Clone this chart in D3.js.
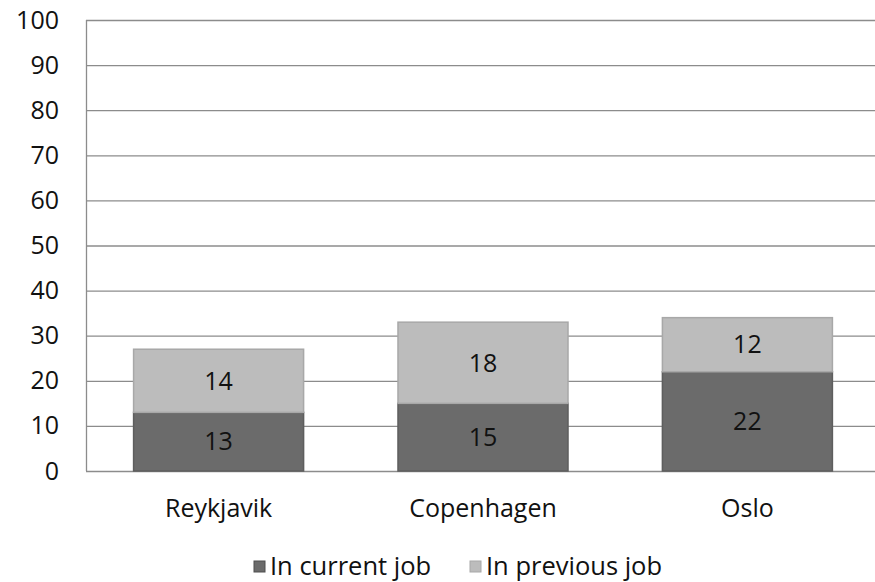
<!DOCTYPE html>
<html><head><meta charset="utf-8">
<script src="https://cdn.jsdelivr.net/npm/d3@7"></script>
<style>body{margin:0;background:#fff}svg{display:block}text{font-family:"Open Sans","Liberation Sans",sans-serif}</style>
</head><body><svg id="c" width="875" height="582"></svg>
<script>
const categories = ["Reykjavik","Copenhagen","Oslo"];
const currentJob = [13,15,22];
const previousJob = [14,18,12];
const seriesNames = ["In current job","In previous job"];
const yTicks = [0,10,20,30,40,50,60,70,80,90,100];

const svg = d3.select("#c");
const m = {left:86, right:880, top:20, bottom:471};
const x = d3.scaleBand().domain(categories).range([m.left, m.right]).paddingInner(0.357).paddingOuter(0.18);
const y = d3.scaleLinear().domain([0,100]).range([m.bottom, m.top]);
const colors = ["#6b6b6b","#bcbcbc"];

// grid
svg.append("g").selectAll("line").data(yTicks).join("line")
  .attr("x1", m.left).attr("x2", 875)
  .attr("y1", d=>y(d)+0.5).attr("y2", d=>y(d)+0.5)
  .attr("stroke","#8c8c8c").attr("stroke-width",1.3);
svg.append("line").attr("x1",m.left+0.5).attr("x2",m.left+0.5).attr("y1",m.top).attr("y2",m.bottom)
  .attr("stroke","#8c8c8c").attr("stroke-width",1.3);

// y labels
const ya = svg.append("g").attr("transform",`translate(${m.left-27},0)`)
  .call(d3.axisLeft(y).tickValues(yTicks).tickSize(0).tickPadding(0));
ya.select(".domain").remove();
ya.selectAll("text").attr("font-size",25).attr("fill","#111").attr("font-family","'Open Sans',sans-serif");

// bars
const stacked = categories.map((c,i)=>[
  {c, y0:0, y1:currentJob[i], v:currentJob[i], s:0},
  {c, y0:currentJob[i], y1:currentJob[i]+previousJob[i], v:previousJob[i], s:1}
]).flat();
const g = svg.append("g");
g.selectAll("rect").data(stacked).join("rect")
  .attr("x", d=>x(d.c)).attr("width", x.bandwidth())
  .attr("y", d=>y(d.y1)).attr("height", d=>y(d.y0)-y(d.y1))
  .attr("fill", d=>colors[d.s]).attr("stroke", d=>d.s?"#a8a8a8":"#5e5e5e").attr("stroke-width",1.5);
g.selectAll("text").data(stacked).join("text")
  .attr("x", d=>x(d.c)+x.bandwidth()/2).attr("y", d=>(y(d.y0)+y(d.y1))/2)
  .attr("dy","0.35em").attr("text-anchor","middle").attr("font-size",25).attr("fill","#111")
  .text(d=>d.v);

// x labels
const xa = svg.append("g").attr("transform",`translate(0,${m.bottom})`)
  .call(d3.axisBottom(x).tickSize(0).tickPadding(0));
xa.select(".domain").remove();
xa.selectAll("text").attr("font-size",25).attr("fill","#111").attr("dy",null).attr("y",46)
  .attr("font-family","'Open Sans',sans-serif");

// legend
const leg = svg.append("g");
const lx = [254, 470];
seriesNames.forEach((n,i)=>{
  leg.append("rect").attr("x",lx[i]).attr("y",561).attr("width",11).attr("height",11)
    .attr("fill",colors[i]).attr("stroke",i?"#a8a8a8":"#4e4e4e");
  leg.append("text").attr("x",lx[i]+16).attr("y",575).attr("font-size",25.5).attr("fill","#111").text(n);
});
</script></body></html>
